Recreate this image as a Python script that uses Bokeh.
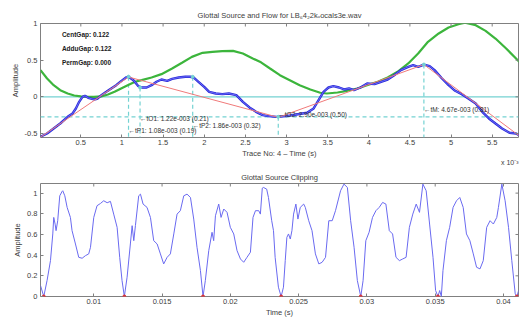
import math
from bokeh.plotting import figure
from bokeh.layouts import column
from bokeh.models import FixedTicker, Label, Range1d, Title
from bokeh.embed import file_html
from bokeh.resources import INLINE

# ---------------- top panel data (time in units of 1e-3 s) ----------------
flow_t = [0.01, 0.09, 0.17, 0.25, 0.34, 0.42, 0.50, 0.58, 0.66, 0.75, 0.83, 0.91, 0.99, 1.07,
          1.16, 1.24, 1.36, 1.48, 1.61, 1.73, 1.85, 1.98, 2.10, 2.22, 2.35, 2.47, 2.59, 2.69,
          2.80, 2.92, 3.04, 3.16, 3.29, 3.41, 3.49, 3.62, 3.74, 3.86, 3.98, 4.11, 4.23, 4.35,
          4.48, 4.60, 4.72, 4.85, 4.97, 5.09, 5.17, 5.30, 5.42, 5.54, 5.67, 5.79, 5.85]
flow_y = [0.364, 0.25, 0.159, 0.091, 0.045, 0.018, 0.005, 0.0, 0.0, 0.005, 0.032, 0.068, 0.114,
          0.159, 0.205, 0.227, 0.264, 0.309, 0.386, 0.464, 0.545, 0.60, 0.614, 0.623, 0.627,
          0.591, 0.523, 0.47, 0.386, 0.295, 0.227, 0.159, 0.10, 0.055, 0.045, 0.059, 0.082,
          0.114, 0.159, 0.205, 0.264, 0.341, 0.455, 0.591, 0.75, 0.864, 0.945, 0.99, 1.01,
          0.977, 0.90, 0.795, 0.659, 0.523, 0.455]

src_t = [0.01, 0.09, 0.17, 0.25, 0.34, 0.40, 0.44, 0.48, 0.52, 0.55, 0.59, 0.66, 0.70, 0.75,
         0.81, 0.87, 0.93, 0.99, 1.05, 1.08, 1.14, 1.20, 1.24, 1.30, 1.36, 1.42, 1.48, 1.55,
         1.61, 1.69, 1.77, 1.83, 1.87, 1.93, 2.00, 2.06, 2.14, 2.22, 2.30, 2.39, 2.47, 2.55,
         2.63, 2.71, 2.78, 2.88, 3.00, 3.12, 3.25, 3.33, 3.39, 3.45, 3.51, 3.57, 3.64, 3.70,
         3.76, 3.82, 3.90, 3.98, 4.07, 4.15, 4.23, 4.31, 4.39, 4.48, 4.54, 4.60, 4.67, 4.74,
         4.80, 4.89, 4.97, 5.05, 5.13, 5.21, 5.30, 5.38, 5.46, 5.54, 5.62, 5.71, 5.79, 5.85]
src_y = [-0.545, -0.50, -0.432, -0.364, -0.273, -0.227, -0.159, -0.068, 0.0, 0.014, -0.014,
         -0.036, -0.027, 0.023, 0.068, 0.114, 0.159, 0.214, 0.264, 0.275, 0.227, 0.145, 0.127,
         0.127, 0.159, 0.205, 0.236, 0.218, 0.245, 0.264, 0.273, 0.273, 0.264, 0.205, 0.136,
         0.068, 0.045, 0.036, 0.045, 0.023, -0.068, -0.145, -0.205, -0.25, -0.264, -0.273,
         -0.264, -0.241, -0.218, -0.159, -0.045, 0.068, 0.127, 0.145, 0.127, 0.10, 0.114,
         0.091, 0.127, 0.182, 0.173, 0.205, 0.236, 0.295, 0.364, 0.409, 0.432, 0.409, 0.440,
         0.418, 0.364, 0.25, 0.159, 0.082, 0.036, -0.023, -0.091, -0.205, -0.295, -0.364,
         -0.432, -0.491, -0.50, -0.536]

model_t = [0.01, 1.08, 2.90, 4.67, 5.85]
model_y = [-0.55, 0.27, -0.28, 0.44, -0.55]

event_names = ["tP1", "tO1", "tP2", "tO2", "tM"]
event_t = [1.08, 1.22, 1.86, 2.90, 4.67]
event_y = [0.275, 0.127, 0.273, -0.273, 0.440]
event_frac = [0.19, 0.21, 0.32, 0.50, 0.81]
ref_level = -0.275

gap_names = ["CentGap", "AdduGap", "PermGap"]
gap_values = [0.122, 0.122, 0.000]

top_xticks = [0.5, 1, 1.5, 2, 2.5, 3, 3.5, 4, 4.5, 5, 5.5]
top_xlabels = ["0.5", "1", "1.5", "2", "2.5", "3", "3.5", "4", "4.5", "5", "5.5"]
top_yticks = [-0.5, 0, 0.5, 1]
top_ylabels = ["-0.5", "0", "0.5", "1"]

# ---------------- bottom panel data (time in ms) ----------------
clip_t_ms = [6.10, 6.34, 6.58, 6.83, 7.00, 7.07, 7.17, 7.24, 7.36, 7.51, 7.68, 7.73, 7.88, 8.05,
             8.29, 8.41, 8.66, 8.90, 9.15, 9.39, 9.63, 9.76, 10.00, 10.24, 10.49, 10.73, 10.98,
             11.22, 11.46, 11.71, 11.90, 12.07, 12.24, 12.44, 12.68, 12.81, 12.93, 13.05, 13.29,
             13.42, 13.61, 13.90, 14.15, 14.39, 14.64, 14.88, 15.12, 15.37, 15.61, 15.86, 16.10,
             16.34, 16.59, 16.83, 17.08, 17.32, 17.56, 17.81, 18.00, 18.17, 18.42, 18.66, 18.78,
             18.91, 19.15, 19.32, 19.52, 19.76, 20.00, 20.25, 20.49, 20.74, 20.98, 21.22, 21.47,
             21.66, 21.84, 22.08, 22.20, 22.34, 22.42, 22.66, 22.79, 23.03, 23.16, 23.28, 23.52,
             23.72, 23.89, 24.02, 24.14, 24.26, 24.39, 24.51, 24.63, 24.80, 24.95, 25.12, 25.37,
             25.49, 25.74, 25.98, 26.23, 26.48, 26.72, 26.97, 27.21, 27.46, 27.70, 28.07, 28.32,
             28.57, 28.81, 29.06, 29.30, 29.55, 29.72, 29.92, 30.16, 30.41, 30.66, 30.90, 31.15,
             31.39, 31.64, 31.88, 32.13, 32.38, 32.62, 32.87, 33.11, 33.36, 33.61, 33.85, 34.10,
             34.34, 34.59, 34.84, 35.03, 35.20, 35.33, 35.45, 35.57, 35.82, 36.06, 36.31, 36.56,
             36.80, 37.05, 37.29, 37.54, 37.79, 38.03, 38.28, 38.52, 38.77, 39.02, 39.26, 39.51,
             39.63, 39.88, 40.12, 40.37, 40.61, 40.86, 40.98, 41.11]
clip_y = [0.106, 0.0, 0.154, 0.347, 0.605, 0.765, 0.70, 0.637, 0.733, 0.974, 1.016, 1.023, 0.974,
          0.862, 0.765, 0.637, 0.508, 0.379, 0.370, 0.395, 0.412, 0.476, 0.765, 0.878, 0.900,
          0.926, 0.907, 0.920, 0.797, 0.669, 0.379, 0.154, 0.0, 0.186, 0.508, 0.685, 0.540,
          0.685, 0.974, 0.990, 0.894, 0.862, 0.765, 0.540, 0.508, 0.412, 0.315, 0.379, 0.412,
          0.605, 0.797, 0.830, 0.974, 0.990, 0.958, 0.749, 0.476, 0.251, 0.0, 0.154, 0.444,
          0.621, 0.540, 0.781, 0.894, 0.765, 0.846, 0.814, 0.669, 0.605, 0.444, 0.363, 0.331,
          0.379, 0.428, 0.765, 0.830, 0.830, 0.797, 1.048, 1.055, 1.039, 0.958, 0.733, 0.637,
          0.379, 0.090, 0.0, 0.090, 0.347, 0.572, 0.605, 0.556, 0.637, 0.797, 0.894, 0.749,
          0.862, 0.894, 0.862, 0.733, 0.637, 0.412, 0.315, 0.331, 0.379, 0.733, 0.733, 0.830,
          1.023, 1.087, 1.055, 0.733, 0.476, 0.154, 0.0, 0.154, 0.540, 0.621, 0.765, 0.830,
          0.862, 0.910, 0.894, 0.637, 0.605, 0.379, 0.347, 0.363, 0.379, 0.669, 0.797, 0.894,
          0.814, 1.087, 1.023, 0.701, 0.379, 0.058, 0.0, 0.058, 0.0, 0.251, 0.540, 0.669,
          0.862, 0.926, 0.958, 0.862, 0.605, 0.540, 0.412, 0.283, 0.267, 0.347, 0.669, 0.733,
          0.701, 0.765, 0.862, 1.087, 0.926, 0.669, 0.347, 0.026, 0.0, 0.058]
clip_min_ms = [6.34, 12.24, 18.00, 23.72, 29.55, 35.20, 40.98]
clip_min_y = [0, 0, 0, 0, 0, 0, 0]

bot_xticks = [0.01, 0.015, 0.02, 0.025, 0.03, 0.035, 0.04]
bot_xlabels = ["0.01", "0.015", "0.02", "0.025", "0.03", "0.035", "0.04"]
bot_yticks = [0, 0.2, 0.4, 0.6, 0.8, 1]
bot_ylabels = ["0", "0.2", "0.4", "0.6", "0.8", "1"]

clip_t = [v / 1000.0 for v in clip_t_ms]
clip_min_t = [v / 1000.0 for v in clip_min_ms]

FONT = "Liberation Sans"
TXT = "#404040"
BOX = "#808080"


def style(p, xticks, xlabels, yticks, ylabels, title_standoff):
    p.xgrid.visible = False
    p.ygrid.visible = False
    p.outline_line_color = BOX
    p.title.text_font = FONT
    p.title.text_font_size = "7.5px"
    p.title.text_font_style = "normal"
    p.title.text_color = TXT
    p.title.align = "center"
    p.title.standoff = title_standoff
    p.xaxis.ticker = FixedTicker(ticks=xticks)
    p.xaxis.major_label_overrides = dict(zip(xticks, xlabels))
    p.yaxis.ticker = FixedTicker(ticks=yticks)
    p.yaxis.major_label_overrides = dict(zip(yticks, ylabels))
    for ax in p.axis:
        ax.axis_line_color = None
        ax.major_tick_in = 3
        ax.major_tick_out = 0
        ax.major_tick_line_color = BOX
        ax.minor_tick_line_color = None
        ax.major_label_text_font = FONT
        ax.major_label_text_font_size = "7.5px"
        ax.major_label_text_color = TXT
        ax.axis_label_text_font = FONT
        ax.axis_label_text_font_size = "7.5px"
        ax.axis_label_text_font_style = "normal"
        ax.axis_label_text_color = TXT
    p.xaxis.major_label_standoff = 2
    p.xaxis.axis_label_standoff = 1
    p.yaxis.major_label_standoff = 3
    p.yaxis.axis_label_standoff = 2
    # mirror ticks on the top and right edges (inner halves of clipped dashes)
    xr, yr = p.x_range, p.y_range
    p.scatter(xticks, [yr.end] * len(xticks), marker="dash", angle=math.pi / 2, size=6,
              line_color=BOX, line_width=1)
    p.scatter([xr.end] * len(yticks), yticks, marker="dash", size=6,
              line_color=BOX, line_width=1)


# ---------------- top figure ----------------
top = figure(width=520, height=167, output_backend="svg", toolbar_location=None,
             x_range=Range1d(0.01, 5.82), y_range=Range1d(-0.555, 1.0),
             title="Glottal Source and Flow for LB\u20864\u20822k\u1d65ocals3e.wav",
             min_border_left=40, min_border_right=2, min_border_top=23, min_border_bottom=30)
top.xaxis.axis_label = "Trace No: 4 \u2013 Time (s)"
top.yaxis.axis_label = "Amplitude"

cyan = "#74d2d2"
top.line([0.01, 5.82], [0, 0], line_color=cyan, line_width=1.2)
top.line([0.01, 5.82], [ref_level, ref_level], line_color=cyan, line_width=1.2, line_dash="4 3")
top.segment(x0=event_t, y0=event_y, x1=event_t, y1=[-0.555] * len(event_t),
            line_color=cyan, line_width=1.2, line_dash="4 3")
top.line(flow_t, flow_y, line_color="#3cb53c", line_width=2.2)
top.line(src_t, src_y, line_color="#2a2ad8", line_width=2.4)
top.line(src_t, src_y, line_color="#7a7aff", line_width=0.8)
top.line(model_t, model_y, line_color="#f07a7a", line_width=1)
top.scatter(event_t, event_y, size=3, color=cyan)
style(top, top_xticks, top_xlabels, top_yticks, top_ylabels, 7)

lab_y = [-0.455, -0.30, -0.386, -0.236, -0.168]
for name, t, fr, ly in zip(event_names, event_t, event_frac, lab_y):
    top.add_layout(Label(x=t, y=ly, text=f"\u2190{name}: {t:.2f}e-003 ({fr:.2f})",
                         text_font=FONT, text_font_size="6.5px", text_color="#303030",
                         text_baseline="middle", text_align="left"))

for i, (n, v) in enumerate(zip(gap_names, gap_values)):
    top.add_layout(Label(x=0.27, y=0.855 - i * 0.196, text=f"{n}: {v:.3f}",
                         text_font=FONT, text_font_size="6.5px", text_font_style="bold",
                         text_color="#202020", text_baseline="middle"))

top.add_layout(Title(text="x 10\u207b\u00b3", align="right", text_font=FONT,
                     text_font_size="7px", text_font_style="normal", text_color=TXT,
                     standoff=-7, offset=0), "below")

# ---------------- bottom figure ----------------
bot = figure(width=520, height=153, output_backend="svg", toolbar_location=None,
             x_range=Range1d(0.0061, 0.0411), y_range=Range1d(0, 1.093),
             title="Glottal Source Clipping",
             min_border_left=40, min_border_right=2, min_border_top=16, min_border_bottom=24)
bot.xaxis.axis_label = "Time (s)"
bot.yaxis.axis_label = "Amplitude"
bot.line(clip_t, clip_y, line_color="#6a6af0", line_width=1)
bot.scatter(clip_min_t, clip_min_y, size=3, color="#e03030")
style(bot, bot_xticks, bot_xlabels, bot_yticks, bot_ylabels, 3)

layout = column(top, bot, spacing=0)
open("out.html", "w").write(file_html(layout, INLINE))
